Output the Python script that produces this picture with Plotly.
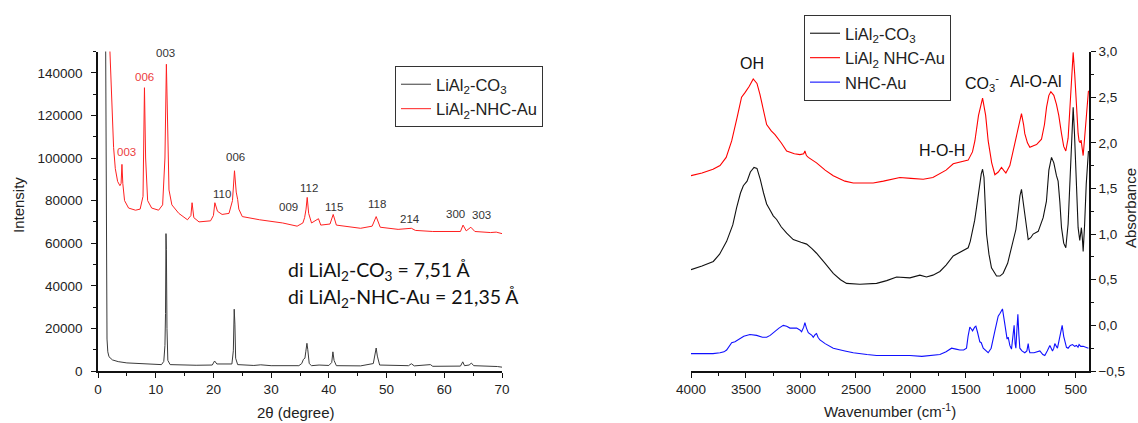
import plotly.graph_objects as go

# ---------------- XRD data ----------------
tt_co3 = [1.30, 1.40, 1.50, 1.56, 1.70, 1.90, 2.5, 3.5, 5.0, 7.6, 10.0, 11.0, 11.4, 11.6, 11.7, 11.78, 11.85, 11.95,
          12.1, 12.5, 14.0, 17.0, 19.8, 20.2, 20.6, 21.7, 22.0, 23.2, 23.45, 23.6, 23.72, 23.85, 24.2, 27.0, 28.2,
          30.0, 34.8, 35.3, 35.6, 35.85, 36.0, 36.2, 36.35, 36.6, 37.0, 38.3, 40.0, 40.5, 40.7, 40.9, 41.3, 45.5,
          47.7, 48.0, 48.2, 48.4, 48.8, 53.8, 54.3, 54.8, 57.6, 58.0, 62.8, 63.2, 63.5, 64.3, 64.7, 65.1, 68.8,
          69.2, 70.0]
i_co3 = [170000, 90000, 38000, 15000, 9000, 6700, 5200, 4400, 3800, 3300, 3100, 3000, 4500, 12000, 27000, 64500,
         57000, 20000, 5000, 3000, 2800, 2700, 2800, 4700, 3300, 3300, 3000, 3300, 9500, 29000, 22000, 6000, 3000,
         2600, 2900, 2500, 2500, 3500, 5500, 6000, 9000, 13000, 10000, 3500, 2500, 2800, 2600, 4000, 9000, 5000,
         2500, 2400, 3500, 7500, 10800, 7000, 2800, 2500, 3400, 2400, 3000, 2200, 2300, 4300, 2500, 2800, 3700,
         2500, 2400, 2100, 1800]

tt_nhc = [2.0, 2.3, 2.7, 3.0, 3.4, 3.8, 4.0, 4.15, 4.3, 4.6, 5.3, 6.5, 7.3, 7.8, 8.05, 8.25, 8.6, 9.3, 10.5,
          11.2, 11.6, 11.85, 12.05, 12.3, 12.8, 14.0, 15.5, 16.1, 16.3, 16.6, 17.5, 19.5, 20.0, 20.25, 20.7, 21.5,
          22.7, 23.3, 23.65, 23.95, 24.2, 24.4, 25.0, 28.0, 32.0, 34.5, 35.5, 35.8, 36.05, 36.25, 36.5, 37.0,
          38.2, 38.6, 40.2, 40.75, 41.3, 44.0, 45.5, 47.5, 48.2, 48.9, 52.0, 54.3, 55.0, 58.0, 62.8, 63.25, 63.8,
          64.6, 65.3, 68.0, 69.0, 70.0]
i_nhc = [155000, 130000, 105000, 95000, 89000, 87000, 88000, 97000, 88000, 80000, 76500, 75500, 76000, 82000,
         133000, 100000, 80000, 76500, 75500, 78000, 100000, 144000, 120000, 85000, 78000, 74000, 71000, 73000,
         79000, 72000, 70000, 70500, 73000, 79000, 75000, 73500, 74000, 80000, 94000, 84000, 80500, 76000, 72500,
         71000, 69500, 68000, 69500, 72000, 76000, 81500, 74000, 69500, 71500, 68500, 69000, 73500, 68500, 67500,
         67000, 68000, 72500, 67500, 66500, 67000, 66000, 65500, 65500, 68500, 65800, 67500, 65500, 65000, 65200,
         64500]

xrd_labels = ["003", "006", "003", "006", "110", "009", "112", "115", "118", "214", "300", "303"]
xrd_label_x = [4.97, 8.14, 11.78, 23.74, 21.43, 33.0, 36.6, 40.9, 48.4, 54.06, 61.98, 66.37]
xrd_label_y = [102800, 137800, 149100, 100500, 83000, 76900, 85900, 77000, 78600, 71200, 73600, 73100]
xrd_label_red = [True, True, False, False, False, False, False, False, False, False, False, False]

# ---------------- FTIR data ----------------
wn_nhc_ldh = [4000, 3900, 3800, 3736, 3680, 3630, 3580, 3540, 3509, 3470, 3434, 3400, 3373, 3340, 3312, 3270, 3236,
              3180, 3130, 3060, 3009, 2975, 2964, 2950, 2933, 2858, 2780, 2706, 2600, 2524, 2430, 2343, 2250, 2150,
              2100, 2000, 1888, 1800, 1736, 1680, 1615, 1550, 1479, 1440, 1418, 1385, 1348, 1320, 1297, 1265, 1236,
              1205, 1176, 1150, 1136, 1100, 1070, 1030, 994, 975, 964, 940, 918, 880, 857, 812, 785, 766, 745, 727,
              700, 676, 655, 630, 610, 591, 570, 555, 538, 524, 510, 494, 479, 470, 460, 452, 442, 433, 420, 400, 385]
a_nhc_ldh = [1.64, 1.67, 1.71, 1.75, 1.84, 2.02, 2.28, 2.50, 2.55, 2.62, 2.70, 2.65, 2.53, 2.35, 2.20, 2.13, 2.09,
             2.00, 1.91, 1.88, 1.87, 1.88, 1.91, 1.86, 1.84, 1.78, 1.70, 1.64, 1.58, 1.56, 1.56, 1.56, 1.58, 1.61,
             1.62, 1.61, 1.60, 1.62, 1.66, 1.70, 1.77, 1.79, 1.81, 1.90, 2.02, 2.30, 2.49, 2.30, 2.02, 1.78, 1.65,
             1.68, 1.73, 1.69, 1.67, 1.75, 1.91, 2.15, 2.32, 2.20, 2.10, 2.00, 1.95, 1.97, 1.98, 2.04, 2.20, 2.39,
             2.52, 2.56, 2.52, 2.42, 2.30, 2.10, 1.96, 1.91, 2.05, 2.35, 2.75, 2.99, 2.75, 2.35, 2.10, 2.02, 2.00,
             2.03, 1.95, 1.86, 2.05, 2.40, 2.57]

wn_co3 = [4000, 3900, 3797, 3740, 3676, 3620, 3585, 3550, 3524, 3490, 3460, 3427, 3400, 3370, 3340, 3312, 3280, 3252,
          3221, 3180, 3130, 3070, 3000, 2948, 2900, 2858, 2780, 2706, 2640, 2585, 2464, 2380, 2312, 2220, 2130, 2009,
          1979, 1918, 1858, 1800, 1736, 1680, 1615, 1560, 1524, 1479, 1460, 1439, 1420, 1403, 1380, 1360, 1348, 1335,
          1312, 1290, 1267, 1221, 1190, 1161, 1120, 1085, 1045, 1024, 1008, 994, 980, 964, 945, 933, 910, 888, 842,
          797, 767, 745, 721, 700, 676, 661, 645, 630, 610, 591, 570, 550, 535, 524, 512, 495, 479, 464, 449, 440,
          433, 420, 405, 385]
a_co3 = [0.61, 0.65, 0.70, 0.78, 0.92, 1.10, 1.29, 1.45, 1.53, 1.58, 1.68, 1.73, 1.72, 1.60, 1.45, 1.33, 1.26, 1.20,
         1.16, 1.08, 1.01, 0.94, 0.91, 0.89, 0.84, 0.79, 0.68, 0.57, 0.50, 0.46, 0.45, 0.46, 0.46, 0.49, 0.53, 0.52,
         0.53, 0.55, 0.53, 0.55, 0.59, 0.66, 0.76, 0.80, 0.82, 0.85, 0.92, 1.03, 1.15, 1.29, 1.50, 1.66, 1.71, 1.62,
         1.00, 0.78, 0.63, 0.54, 0.54, 0.57, 0.68, 0.85, 1.05, 1.25, 1.42, 1.49, 1.38, 1.22, 1.05, 0.94, 0.96, 1.00,
         1.03, 1.18, 1.36, 1.70, 1.84, 1.78, 1.64, 1.58, 1.35, 1.07, 0.90, 0.85, 1.11, 1.70, 2.25, 2.39, 2.10, 1.50,
         1.07, 0.93, 1.07, 0.95, 0.81, 1.10, 1.55, 1.91]

wn_au = [4000, 3900, 3800, 3736, 3700, 3676, 3650, 3630, 3600, 3560, 3520, 3464, 3403, 3350, 3312, 3280, 3252, 3200,
         3161, 3130, 3100, 3039, 3010, 2994, 2975, 2964, 2950, 2933, 2900, 2888, 2870, 2858, 2845, 2827, 2780, 2706,
         2600, 2524, 2400, 2312, 2150, 2009, 1900, 1800, 1736, 1680, 1630, 1590, 1555, 1520, 1494, 1480, 1464, 1450,
         1439, 1420, 1409, 1395, 1373, 1360, 1342, 1297, 1270, 1236, 1206, 1190, 1167, 1150, 1136, 1125, 1115, 1100,
         1085, 1061, 1052, 1045, 1036, 1027, 1018, 1009, 990, 964, 945, 933, 925, 918, 880, 860, 827, 800, 782, 760,
         736, 712, 700, 691, 667, 655, 645, 635, 624, 610, 600, 585, 570, 550, 530, 510, 494, 480, 470, 455, 433,
         410, 385]
a_au = [-0.31, -0.31, -0.31, -0.30, -0.29, -0.27, -0.23, -0.19, -0.18, -0.15, -0.12, -0.10, -0.11, -0.13, -0.13,
        -0.11, -0.08, -0.03, 0.00, -0.01, -0.03, -0.03, -0.05, -0.07, -0.02, 0.03, -0.03, -0.08, -0.11, -0.13, -0.10,
        -0.09, -0.13, -0.16, -0.20, -0.25, -0.28, -0.30, -0.32, -0.33, -0.33, -0.33, -0.34, -0.33, -0.32, -0.29,
        -0.25, -0.26, -0.27, -0.27, -0.25, -0.12, -0.02, -0.04, -0.06, -0.02, -0.01, -0.07, -0.18, -0.19, -0.25,
        -0.30, -0.25, -0.06, 0.10, 0.13, 0.18, 0.05, -0.09, -0.15, -0.13, -0.22, -0.26, 0.00, -0.20, -0.25, -0.05,
        0.12, -0.10, -0.25, -0.28, -0.30, -0.28, -0.20, -0.27, -0.30, -0.30, -0.29, -0.28, -0.32, -0.33, -0.28,
        -0.22, -0.28, -0.25, -0.20, -0.25, -0.18, -0.12, -0.04, 0.00, -0.12, -0.18, -0.24, -0.25, -0.22, -0.21,
        -0.23, -0.22, -0.24, -0.21, -0.23, -0.23, -0.24, -0.25]

ftir_labels = ["OH", "H-O-H", "CO<sub>3</sub><sup>-</sup>", "Al-O-Al", "Al-O"]
ftir_label_x = [3442, 1714, 1350, 862, 553]
ftir_label_y = [2.87, 1.92, 2.66, 2.67, 3.14]

# The page's default body margin is removed (post_script below), so the figure fills the window exactly.
FW, FH = 1138, 423


def px2x(px):
    return px / FW


def px2y(py):
    return 1 - py / FH


FONT = "Liberation Sans, Arial, sans-serif"
TXT = "#222222"
RED_LBL = "rgb(236,64,64)"

fig = go.Figure()

fig.add_trace(go.Scatter(x=tt_co3, y=i_co3, mode="lines", name="LiAl<sub>2</sub>-CO<sub>3</sub>",
                         line=dict(color="#3a3a3a", width=1), xaxis="x", yaxis="y", legend="legend"))
fig.add_trace(go.Scatter(x=tt_nhc, y=i_nhc, mode="lines", name="LiAl<sub>2</sub>-NHC-Au",
                         line=dict(color="#ff2020", width=1), xaxis="x", yaxis="y", legend="legend"))

fig.add_trace(go.Scatter(x=wn_co3, y=a_co3, mode="lines", name="LiAl<sub>2</sub>-CO<sub>3</sub>",
                         line=dict(color="#111111", width=1.1), xaxis="x2", yaxis="y2", legend="legend2"))
fig.add_trace(go.Scatter(x=wn_nhc_ldh, y=a_nhc_ldh, mode="lines", name="LiAl<sub>2</sub> NHC-Au",
                         line=dict(color="#ff0000", width=1.1), xaxis="x2", yaxis="y2", legend="legend2"))
fig.add_trace(go.Scatter(x=wn_au, y=a_au, mode="lines", name="NHC-Au",
                         line=dict(color="#1010ff", width=1.1), xaxis="x2", yaxis="y2", legend="legend2"))

ydom = [px2y(371), px2y(51.5)]
axis_common = dict(showline=True, linecolor="#111111", linewidth=1.5, ticks="outside", ticklen=5,
                   tickwidth=1.2, tickcolor="#111111", showgrid=False, zeroline=False, automargin=False,
                   tickfont=dict(family=FONT, size=13.5, color=TXT))

fig.update_layout(
    template="none",
    width=FW, height=FH,
    margin=dict(l=0, r=0, t=0, b=0, autoexpand=False),
    paper_bgcolor="white", plot_bgcolor="white",
    separators=", ",
    showlegend=True,
    xaxis=dict(domain=[px2x(98), px2x(502)], range=[0, 70], dtick=10, tick0=0, anchor="y",
               minor=dict(ticks="outside", dtick=5, ticklen=3, tickcolor="#111111"), **axis_common),
    yaxis=dict(domain=ydom, range=[0, 150000], dtick=20000, tick0=0, tickformat="d", anchor="x",
               minor=dict(ticks="outside", dtick=10000, ticklen=3, tickcolor="#111111"),
               ticklabelstandoff=6, **axis_common),
    xaxis2=dict(domain=[px2x(691), px2x(1089)], range=[4000, 380], dtick=500, tick0=0, tickformat="d",
                anchor="y2", minor=dict(ticks="outside", dtick=250, ticklen=3, tickcolor="#111111"), **axis_common),
    yaxis2=dict(domain=ydom, range=[-0.5, 3.0], dtick=0.5, tick0=0, tickformat=".1f", anchor="x2", side="right",
                minor=dict(ticks="outside", dtick=0.25, ticklen=3, tickcolor="#111111"), **axis_common),
    legend=dict(x=px2x(395), y=px2y(66), xanchor="left", yanchor="top", bordercolor="#333333", borderwidth=1,
                bgcolor="rgba(255,255,255,0)", font=dict(family=FONT, size=16.5, color=TXT),
                tracegroupgap=0, itemwidth=30),
    legend2=dict(x=px2x(804), y=px2y(15), xanchor="left", yanchor="top", bordercolor="#333333", borderwidth=1,
                 bgcolor="rgba(255,255,255,0)", font=dict(family=FONT, size=16.5, color=TXT),
                 tracegroupgap=0, itemwidth=30),
)

annots = []
for t, x, y, r in zip(xrd_labels, xrd_label_x, xrd_label_y, xrd_label_red):
    annots.append(dict(text=t, x=x, y=y, xref="x", yref="y", showarrow=False, xanchor="center", yanchor="middle",
                       font=dict(family=FONT, size=11.5, color=RED_LBL if r else "#333333")))
for t, x, y in zip(ftir_labels, ftir_label_x, ftir_label_y):
    annots.append(dict(text=t, x=x, y=y, xref="x2", yref="y2", showarrow=False, xanchor="center", yanchor="middle",
                       font=dict(family=FONT, size=16, color="#111111")))

note_font = dict(family="Lato, Open Sans, sans-serif", size=19.5, color="#111111")
annots.append(dict(text="di LiAl<sub>2</sub>-CO<sub>3</sub> = 7,51 Å", x=px2x(286), y=px2y(271), xref="paper",
                   yref="paper", xanchor="left", yanchor="middle", showarrow=False, font=note_font))
annots.append(dict(text="di LiAl<sub>2</sub>-NHC-Au = 21,35 Å", x=px2x(286), y=px2y(298), xref="paper",
                   yref="paper", xanchor="left", yanchor="middle", showarrow=False, font=note_font))

title_font = dict(family=FONT, size=15, color=TXT)
annots.append(dict(text="Intensity", x=px2x(19), y=px2y(205), xref="paper", yref="paper", textangle=-90,
                   xanchor="center", yanchor="middle", showarrow=False, font=title_font))
annots.append(dict(text="2θ (degree)", x=px2x(296), y=px2y(412), xref="paper", yref="paper",
                   xanchor="center", yanchor="middle", showarrow=False, font=title_font))
annots.append(dict(text="Wavenumber (cm<sup>-1</sup>)", x=px2x(890), y=px2y(410), xref="paper", yref="paper",
                   xanchor="center", yanchor="middle", showarrow=False, font=title_font))
annots.append(dict(text="Absorbance", x=px2x(1130), y=px2y(208), xref="paper", yref="paper", textangle=-90,
                   xanchor="center", yanchor="middle", showarrow=False, font=title_font))

fig.update_layout(annotations=annots)
fig.write_html("out.html", config={"displayModeBar": False},
               post_script="document.body.style.margin='0px';document.body.style.overflow='hidden';")
